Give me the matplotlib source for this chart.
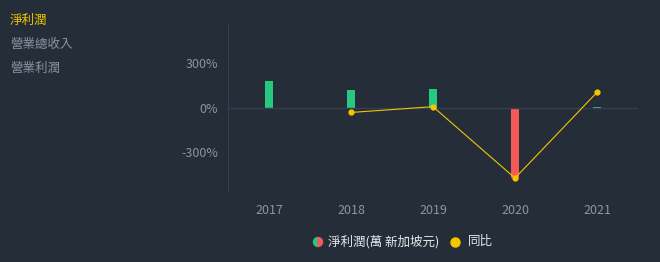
import matplotlib.pyplot as plt
from matplotlib.patches import Wedge

plt.rcParams['font.family'] = ['Noto Sans CJK TC', 'DejaVu Sans']

years = ['2017', '2018', '2019', '2020', '2021']
net_profit = [1820, 1230, 1280, -4720, 50]      # 萬 新加坡元 (estimated)
yoy = [None, -32, 7, -476, 104]                  # 同比 %

bg = '#252d38'
grid_c = '#343f4d'
tick_c = '#8b96a3'
green = '#27c87f'
red = '#f25a5a'
yellow = '#f3c600'

fig = plt.figure(figsize=(6.6, 2.62), dpi=100, facecolor=bg)
ax = fig.add_axes([228/660, 1-192/262, 410/660, 169/262])
ax.set_facecolor(bg)

x = list(range(len(years)))

# bars on twin axis, same zero
ax2 = ax.twinx()
cols = [green if v >= 0 else red for v in net_profit]
ax2.bar(x, net_profit, width=0.1, color=cols, zorder=2)
ax2.set_ylim(-5700, 5730)
ax2.axis('off')

ax.set_ylim(-570, 573)
ax.set_xlim(-0.5, 4.5)
ax.axhline(0, color=grid_c, lw=1, zorder=1)
ax.set_zorder(ax2.get_zorder() + 1)
ax.patch.set_visible(False)

lx = [i for i, v in zip(x, yoy) if v is not None]
ly = [v for v in yoy if v is not None]
ax.plot(lx, ly, color=yellow, lw=0.8, marker='o', ms=3.5, zorder=3)

ax.set_yticks([-300, 0, 300])
ax.set_yticklabels(['-300%', '0%', '300%'])
ax.set_xticks(x)
ax.set_xticklabels(years)
ax.tick_params(colors=tick_c, labelsize=9, length=0)
ax.tick_params(axis='y', pad=7)
ax.tick_params(axis='x', pad=9)
for s in ['top', 'right', 'bottom']:
    ax.spines[s].set_visible(False)
ax.spines['left'].set_color(grid_c)

# left side menu
fig.text(10/660, 1-20/262, '淨利潤', color=yellow, fontsize=9, va='center')
fig.text(10/660, 1-44/262, '營業總收入', color=tick_c, fontsize=9, va='center')
fig.text(10/660, 1-68/262, '營業利潤', color=tick_c, fontsize=9, va='center')

# bottom legend
lax = fig.add_axes([0, 0, 1, 1], facecolor='none')
lax.set_xlim(0, 660)
lax.set_ylim(262, 0)
lax.axis('off')
lax.add_patch(Wedge((318, 242), 4.5, 90, 270, color=green))
lax.add_patch(Wedge((318, 242), 4.5, 270, 90, color=red))
fig.text(328/660, 1-242/262, '淨利潤(萬 新加坡元)', color='#e6e8eb', fontsize=9, va='center')
lax.plot([455], [242], 'o', color=yellow, ms=6.5)
fig.text(468/660, 1-242/262, '同比', color='#e6e8eb', fontsize=9, va='center')

fig.savefig('out.png', dpi=100, facecolor=bg)
